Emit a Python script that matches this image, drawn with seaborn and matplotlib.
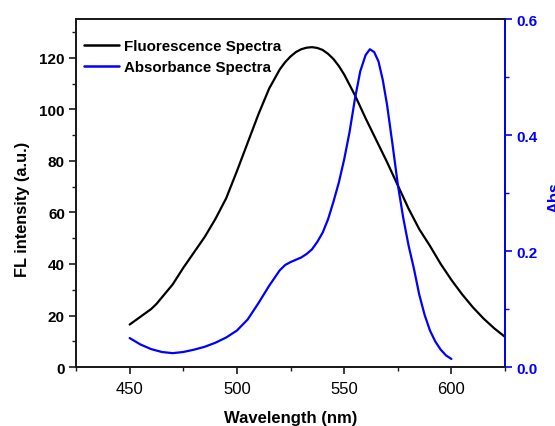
import matplotlib
matplotlib.use("Agg")
import matplotlib.pyplot as plt
from matplotlib.ticker import MultipleLocator, FormatStrFormatter
from matplotlib.lines import Line2D
import seaborn as sns
import pandas as pd

# Fluorescence emission spectrum (FL intensity, a.u.)
fl_wavelength = [450, 455, 460, 462.5, 465, 470, 475, 480, 485, 490, 495, 500, 505,
                 510, 515, 520, 522.5, 525, 527.5, 530, 532.5, 535, 537.5, 540, 542.5,
                 545, 547.5, 550, 555, 560, 565, 570, 575, 580, 585, 590, 595, 600,
                 605, 610, 615, 620, 625]
fl_intensity = [16.5, 19.5, 22.5, 24.5, 27.0, 32.0, 38.5, 44.5, 50.5, 57.5, 65.5, 76.0, 87.0,
                98.0, 108.0, 115.5, 118.3, 120.5, 122.2, 123.3, 123.9, 124.1, 123.8, 123.0, 121.5,
                119.5, 116.8, 113.5, 105.5, 96.5, 88.0, 79.5, 70.5, 61.5, 53.5, 47.0, 40.0, 33.8,
                28.2, 23.2, 18.8, 15.0, 11.7]

# Absorbance spectrum
abs_wavelength = [450, 455, 460, 465, 470, 475, 480, 485, 490, 495, 500, 505, 510, 515,
                  520, 522.5, 525, 527.5, 530, 532.5, 535, 537.5, 540, 542.5, 545, 547.5,
                  550, 552.5, 555, 557.5, 560, 562, 564, 566, 568, 570, 572.5, 575, 577.5,
                  580, 582.5, 585, 587.5, 590, 592.5, 595, 597.5, 600]
absorbance = [0.050, 0.039, 0.031, 0.026, 0.024, 0.026, 0.030, 0.035, 0.042, 0.051, 0.063, 0.082,
              0.110, 0.140, 0.167, 0.176, 0.181, 0.185, 0.189, 0.195, 0.203, 0.216, 0.232, 0.255,
              0.285, 0.318, 0.358, 0.405, 0.462, 0.510, 0.538, 0.548, 0.543, 0.527, 0.495, 0.452,
              0.385, 0.315, 0.258, 0.210, 0.170, 0.125, 0.090, 0.063, 0.044, 0.030, 0.020, 0.014]

fl_df = pd.DataFrame({"wavelength": fl_wavelength, "intensity": fl_intensity})
abs_df = pd.DataFrame({"wavelength": abs_wavelength, "absorbance": absorbance})

sns.set_style("ticks")
plt.rcParams["font.family"] = ["Liberation Sans", "DejaVu Sans"]
plt.rcParams["text.color"] = "black"
plt.rcParams["axes.labelcolor"] = "black"
plt.rcParams["xtick.color"] = "black"
plt.rcParams["ytick.color"] = "black"
plt.rcParams["lines.solid_joinstyle"] = "round"

blue = "#0000ff"
fig = plt.figure(figsize=(5.55, 4.27), dpi=100)
ax = fig.add_axes([0.137, 0.138, 0.773, 0.815])
ax2 = ax.twinx()

sns.lineplot(data=fl_df, x="wavelength", y="intensity", ax=ax, color="black",
             linewidth=1.6, legend=False)
sns.lineplot(data=abs_df, x="wavelength", y="absorbance", ax=ax2, color=blue,
             linewidth=1.6, legend=False)

ax.set_xlim(425, 625)
ax.set_ylim(0, 135)
ax2.set_ylim(0, 0.6)

ax.xaxis.set_major_locator(MultipleLocator(50))
ax.xaxis.set_minor_locator(MultipleLocator(25))
ax.yaxis.set_major_locator(MultipleLocator(20))
ax.yaxis.set_minor_locator(MultipleLocator(10))
ax2.yaxis.set_major_locator(MultipleLocator(0.2))
ax2.yaxis.set_minor_locator(MultipleLocator(0.1))
ax2.yaxis.set_major_formatter(FormatStrFormatter("%.1f"))

for a in (ax, ax2):
    for s in a.spines.values():
        s.set_linewidth(1.3)
        s.set_color("#1a1a1a")
ax2.spines["right"].set_color(blue)

ax.tick_params(axis="both", which="major", direction="out", length=5, width=1.2,
               color="#1a1a1a", pad=3)
ax.tick_params(axis="both", which="minor", direction="out", length=3, width=1.0,
               color="#1a1a1a")
ax.tick_params(axis="x", labelsize=12, pad=5)
ax.tick_params(axis="y", labelsize=11)
for lbl in ax.get_yticklabels():
    lbl.set_fontweight("bold")

ax2.tick_params(axis="y", which="major", direction="out", length=5, width=1.2,
                color=blue, labelcolor=blue, labelsize=11, pad=3)
ax2.tick_params(axis="y", which="minor", direction="out", length=3, width=1.0, color=blue)
for lbl in ax2.get_yticklabels():
    lbl.set_fontweight("bold")

ax.set_xlabel("Wavelength (nm)", fontsize=12, fontweight="bold", labelpad=10)
ax.set_ylabel("FL intensity (a.u.)", fontsize=11.8, fontweight="bold")
ax.yaxis.set_label_coords(-0.108, 0.455)
ax2.set_ylabel("Abs", fontsize=11.8, fontweight="bold", color=blue, rotation=90)
ax2.yaxis.set_label_coords(1.1, 0.49)

handles = [Line2D([], [], color="black", linewidth=1.8),
           Line2D([], [], color=blue, linewidth=1.8)]
ax.legend(handles, ["Fluorescence Spectra", "Absorbance Spectra"], loc="upper left",
          frameon=False, prop={"weight": "bold", "size": 10.9}, handlelength=2.3,
          handletextpad=0.3, labelspacing=0.45, borderaxespad=0.0,
          bbox_to_anchor=(0.005, 0.96))

fig.savefig("out.png", dpi=100)
